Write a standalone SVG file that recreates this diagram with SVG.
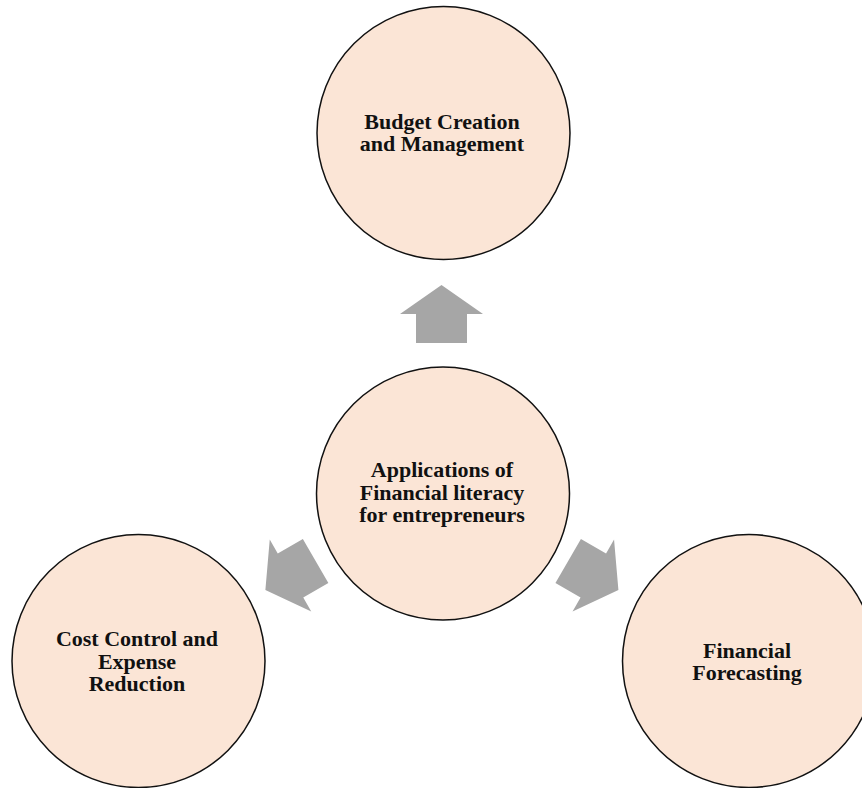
<svg xmlns="http://www.w3.org/2000/svg" width="862" height="788" viewBox="0 0 862 788">
  <style>
    .node circle { fill: #FBE5D6; stroke: #111; stroke-width: 1.5; }
    .node text { font-family: "Liberation Serif", "Times New Roman", serif; font-weight: bold; font-size: 22px; fill: #111; text-anchor: middle; }
    .arrow { fill: #A6A6A6; }
  </style>
  <defs>
    <!-- block arrow pointing up; origin at the middle of the wing line -->
    <path id="blockArrow" d="M0,-29 L41.5,0 L25.5,0 L25.5,29 L-25.5,29 L-25.5,0 L-41.5,0 Z"/>
  </defs>

  <rect width="862" height="788" fill="#fff"/>

  <g id="connectors">
    <use href="#blockArrow" class="arrow" transform="translate(441.5,314)"/>
    <use href="#blockArrow" class="arrow" transform="translate(290.5,575.5) rotate(240)"/>
    <use href="#blockArrow" class="arrow" transform="translate(593.3,575.5) rotate(120)"/>
  </g>

  <g id="node-budget" class="node">
    <circle cx="443.5" cy="133" r="126.5"/>
    <text x="442" y="128.5">Budget Creation</text>
    <text x="442" y="151">and Management</text>
  </g>

  <g id="node-center" class="node">
    <circle cx="443" cy="493.5" r="126.5"/>
    <text x="442" y="477">Applications of</text>
    <text x="442" y="499.5">Financial literacy</text>
    <text x="442" y="522">for entrepreneurs</text>
  </g>

  <g id="node-cost" class="node">
    <circle cx="138.5" cy="661" r="126.5"/>
    <text x="137" y="646">Cost Control and</text>
    <text x="137" y="668.5">Expense</text>
    <text x="137" y="691">Reduction</text>
  </g>

  <g id="node-forecast" class="node">
    <circle cx="749" cy="661" r="126.5"/>
    <text x="747" y="657.5">Financial</text>
    <text x="747" y="680">Forecasting</text>
  </g>
</svg>
